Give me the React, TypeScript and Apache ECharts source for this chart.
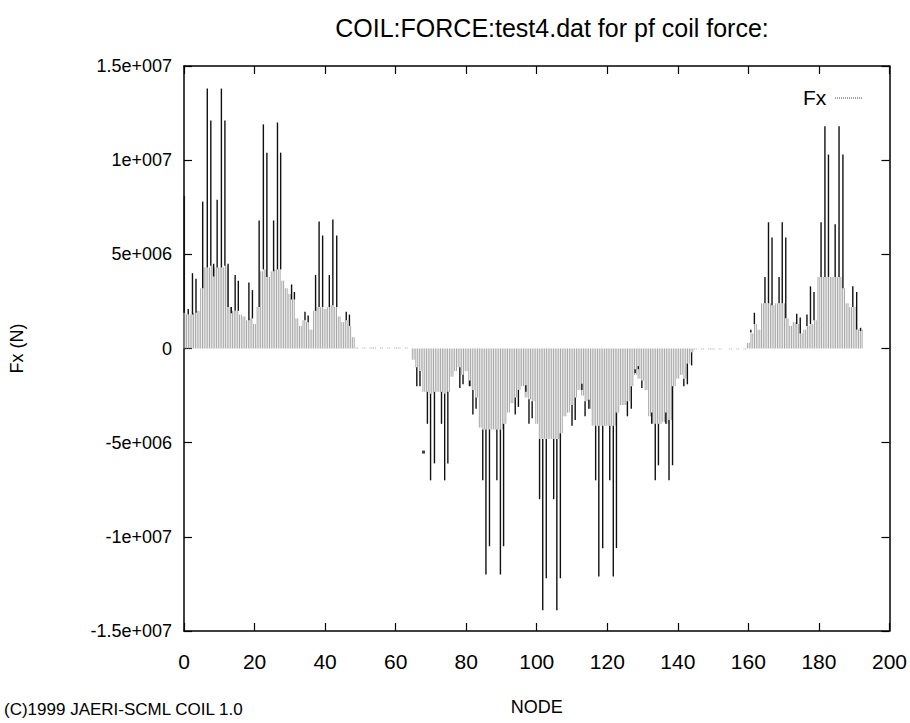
import React, { useEffect, useRef } from "react";
import * as echarts from "echarts";

// ---- data ----
const titleText = "COIL:FORCE:test4.dat for pf coil force:";
const xName = "NODE";
const yName = "Fx (N)";
const seriesName = "Fx";
const footer = "(C)1999 JAERI-SCML COIL 1.0";

const yTickValues = [-1.5e7, -1e7, -5e6, 0, 5e6, 1e7, 1.5e7];
const yTickLabels = ["-1.5e+007", "-1e+007", "-5e+006", "0", "5e+006", "1e+007", "1.5e+007"];

// light (dense) part of the impulses, one value per node, nodes 0..192
const grayNodes0to48 = [
  1.9e6, 1.8e6, 1.8e6, 1.9e6, 2.0e6, 3.2e6, 4.3e6, 4.3e6, 4.4e6, 4.3e6, 4.3e6, 4.3e6, 4.4e6,
  2.2e6, 2.0e6, 2.0e6, 1.8e6, 1.7e6, 1.5e6, 1.6e6, 1.3e6, 2.2e6, 4.1e6, 4.2e6, 3.8e6,
  4.1e6, 4.2e6, 4.2e6, 3.6e6, 3.2e6, 2.9e6, 2.6e6, 1.6e6, 1.2e6, 1.5e6, 1.4e6, 1.0e6,
  2.0e6, 2.2e6, 2.2e6, 2.1e6, 2.2e6, 2.3e6, 2.2e6, 1.7e6, 1.4e6, 1.5e6, 1.2e6, 0.6e6,
];
const grayNodes49to64 = [
  0.05e6, 0, 0.05e6, 0, 0.05e6, 0.05e6, 0, 0.05e6, 0, 0.05e6, 0, 0.05e6, 0.05e6, 0, 0.05e6, 0,
];
const grayNodes65to144 = [
  -0.6e6, -1.0e6, -1.2e6, -2.3e6, -2.3e6, -2.4e6, -2.3e6, -2.3e6, -2.3e6, -2.4e6, -2.3e6, -1.5e6,
  -1.2e6, -1.0e6, -1.4e6, -1.2e6, -2.0e6, -2.2e6, -2.6e6,
  -4.2e6, -4.3e6, -4.3e6, -4.3e6, -4.3e6, -4.3e6, -4.3e6, -4.0e6, -3.4e6, -2.9e6, -2.6e6, -2.2e6,
  -2.0e6, -2.6e6, -2.7e6, -2.8e6,
  -4.0e6, -4.8e6, -4.8e6, -4.8e6, -4.8e6, -4.8e6, -4.8e6, -4.5e6, -3.6e6, -3.4e6, -3.0e6, -2.6e6,
  -2.2e6, -2.5e6, -2.8e6, -3.2e6,
  -4.1e6, -4.1e6, -4.1e6, -4.1e6, -4.1e6, -4.1e6, -4.1e6, -3.4e6, -3.0e6, -3.0e6, -2.8e6, -2.0e6,
  -1.4e6, -1.6e6, -1.7e6, -2.2e6,
  -3.6e6, -4.0e6, -4.0e6, -4.0e6, -3.9e6, -4.0e6, -3.8e6, -2.0e6, -1.6e6, -1.4e6, -1.6e6, -0.8e6,
  -0.2e6,
];
const grayNodes145to159 = [
  -0.05e6, 0, -0.05e6, 0, -0.05e6, -0.05e6, 0, -0.05e6, 0, 0, -0.05e6, 0, -0.05e6, 0, -0.05e6,
];
const grayNodes160to192 = [
  0.3e6, 0.8e6, 1.3e6, 1.0e6, 2.4e6, 2.4e6, 2.4e6, 2.3e6, 2.4e6, 2.4e6, 2.4e6,
  1.6e6, 1.2e6, 1.4e6, 1.3e6, 0.8e6, 1.0e6, 1.2e6, 1.3e6, 1.5e6,
  3.8e6, 3.8e6, 3.8e6, 3.8e6, 3.8e6, 3.8e6, 3.8e6, 3.2e6, 2.4e6, 2.2e6, 2.2e6, 1.0e6, 1.0e6,
];
const grayValues = [
  ...grayNodes0to48,
  ...grayNodes49to64,
  ...grayNodes65to144,
  ...grayNodes145to159,
  ...grayNodes160to192,
];

// dark impulses: node positions and peak values
const spikeNodes = [
  0.1, 1.2, 2.4, 3.4, 5.3, 6.6, 7.6, 8.4, 9.4, 10.6, 11.6, 12.5, 13.4, 14.5, 15.4, 18.4, 19.4,
  21.3, 22.5, 23.5, 25.4, 26.5, 27.4, 30.5, 31.3, 34.3, 35.2, 37.3, 38.3, 39.3, 41.2, 42.2, 43.3,
  46.0, 46.9,
  66.0, 66.9, 69.0, 69.9, 71.0, 73.0, 73.9, 74.8, 78.2, 79.1, 81.0, 81.9, 82.8, 84.7, 85.6, 86.6,
  88.7, 89.7, 90.6, 93.9, 94.8, 96.9, 97.8, 98.7, 100.8, 101.7, 102.7, 104.8, 105.7, 106.7,
  110.0, 110.9, 112.8, 113.7, 114.8, 116.7, 117.6, 118.7, 120.7, 121.7, 122.6, 125.7, 126.8,
  127.9, 128.8, 129.8, 132.6, 133.6, 134.5, 136.6, 137.5, 138.5, 141.7, 142.7, 143.9,
  160.7, 161.7, 164.7, 165.7, 166.7, 168.7, 169.6, 170.6, 173.7, 174.7, 176.6, 177.6, 178.6,
  180.6, 181.7, 182.7, 184.6, 185.7, 186.8, 189.6, 190.7, 191.8,
];
const spikeValues = [
  8.1e6, 2.1e6, 4.0e6, 3.7e6, 7.8e6, 1.38e7, 1.21e7, 4.5e6, 7.9e6, 1.38e7, 1.21e7, 4.5e6, 2.2e6,
  3.9e6, 3.6e6, 3.5e6, 3.1e6,
  6.8e6, 1.19e7, 1.04e7, 6.8e6, 1.2e7, 1.04e7, 3.4e6, 3.0e6, 1.95e6, 1.75e6, 3.9e6, 6.75e6, 6.0e6,
  3.9e6, 6.85e6, 6.0e6, 1.95e6, 1.8e6,
  -2.0e6, -2.0e6, -4.0e6, -7.0e6, -6.1e6, -4.0e6, -7.0e6, -6.1e6, -2.1e6, -1.9e6, -2.0e6, -3.5e6,
  -3.2e6, -7.0e6, -1.2e7, -1.05e7, -7.0e6, -1.2e7, -1.05e7, -3.5e6, -3.1e6, -2.3e6, -4.0e6, -3.7e6,
  -8.0e6, -1.39e7, -1.22e7, -8.0e6, -1.39e7, -1.22e7,
  -4.1e6, -3.8e6, -2.2e6, -3.6e6, -3.2e6, -7.0e6, -1.21e7, -1.06e7, -7.0e6, -1.21e7, -1.06e7,
  -3.6e6, -3.2e6, -1.3e6, -1.1e6, -2.1e6, -4.0e6, -7.0e6, -6.2e6, -4.0e6, -7.0e6, -6.2e6, -2.0e6,
  -1.9e6, -0.9e6,
  1.0e6, 1.9e6, 3.8e6, 6.7e6, 5.9e6, 3.8e6, 6.7e6, 5.9e6, 1.85e6, 1.65e6, 1.8e6, 3.3e6, 3.0e6,
  6.7e6, 1.18e7, 1.03e7, 6.6e6, 1.18e7, 1.03e7, 3.3e6, 3.0e6, 1.1e6,
];
// isolated mark
const strayNodes = [67.9];
const strayValues = [-5.5e6];

const FONT = "'Liberation Sans', Arial, Helvetica, sans-serif";

export default function App() {
  const ref = useRef<HTMLDivElement>(null);
  useEffect(() => {
    if (!ref.current) return;
    const chart = echarts.init(ref.current, null, { renderer: "svg" });

    const grayData = grayValues.map((v, i) => [i, v]);
    const spikeData = spikeNodes.map((n, i) => {
      const peak = spikeValues[i];
      let base = grayValues[Math.round(n)] ?? 0;
      if (Math.sign(base) !== Math.sign(peak) || Math.abs(peak) - Math.abs(base) < 0.3e6) {
        base = peak * 0.85;
      }
      return [n, base, peak];
    });
    const strayData = strayNodes.map((n, i) => [n, strayValues[i]]);

    const axisCommon = {
      axisLine: { show: true, onZero: false, lineStyle: { color: "#000", width: 1.5 } },
      axisTick: { show: true, inside: true, length: 8, lineStyle: { color: "#000", width: 1.2 } },
      splitLine: { show: false },
    };

    chart.setOption({
      animation: false,
      backgroundColor: "#fff",
      title: {
        text: titleText,
        left: 547,
        top: 10,
        textAlign: "center",
        textStyle: { fontFamily: FONT, fontSize: 25, fontWeight: "normal", color: "#000" },
      },
      grid: { left: 178, right: 19, top: 66, bottom: 92, containLabel: false },
      xAxis: [
        {
          type: "value",
          min: 0,
          max: 200,
          interval: 20,
          position: "bottom",
          name: xName,
          nameLocation: "middle",
          nameGap: 67,
          nameTextStyle: { fontFamily: FONT, fontSize: 18, color: "#000" },
          axisLabel: { fontFamily: FONT, fontSize: 21, color: "#000", margin: 20 },
          ...axisCommon,
        },
        {
          type: "value",
          min: 0,
          max: 200,
          interval: 20,
          position: "top",
          axisLabel: { show: false },
          ...axisCommon,
        },
      ],
      yAxis: [
        {
          type: "value",
          min: -1.5e7,
          max: 1.5e7,
          interval: 5e6,
          position: "left",
          name: yName,
          nameLocation: "middle",
          nameGap: 158,
          nameRotate: 90,
          nameTextStyle: { fontFamily: FONT, fontSize: 18, color: "#000" },
          axisLabel: {
            fontFamily: FONT,
            fontSize: 18,
            color: "#000",
            margin: 12,
            formatter: (v: number) => {
              const idx = yTickValues.findIndex((t) => Math.abs(t - v) < 1);
              return idx >= 0 ? yTickLabels[idx] : "";
            },
          },
          ...axisCommon,
        },
        {
          type: "value",
          min: -1.5e7,
          max: 1.5e7,
          interval: 5e6,
          position: "right",
          axisLabel: { show: false },
          ...axisCommon,
        },
      ],
      series: [
        {
          name: seriesName,
          type: "custom",
          data: grayData,
          clip: true,
          z: 2,
          renderItem: (params: any, api: any) => {
            const x = api.value(0);
            const v = api.value(1);
            const p0 = api.coord([x, 0]);
            const p1 = api.coord([x, v]);
            const children = [-0.95, 0.85].map((dx) => ({
              type: "line",
              shape: { x1: p0[0] + dx, y1: p0[1], x2: p1[0] + dx, y2: p1[1] },
              style: { stroke: "#a6a6a6", lineWidth: 1 },
            }));
            return { type: "group", children };
          },
        },
        {
          name: seriesName + " peaks",
          type: "custom",
          data: spikeData,
          clip: true,
          z: 3,
          renderItem: (params: any, api: any) => {
            const x = api.value(0);
            const p0 = api.coord([x, api.value(1)]);
            const p1 = api.coord([x, api.value(2)]);
            return {
              type: "line",
              shape: { x1: p0[0], y1: p0[1], x2: p1[0], y2: p1[1] },
              style: { stroke: "#111", lineWidth: 1.4 },
            };
          },
        },
        {
          name: "stray",
          type: "scatter",
          data: strayData,
          symbol: "rect",
          symbolSize: 3,
          itemStyle: { color: "#111" },
          z: 3,
        },
      ],
      graphic: [
        {
          type: "text",
          left: 4,
          top: 701,
          style: { text: footer, fontFamily: FONT, fontSize: 17, fill: "#000" },
        },
        {
          type: "text",
          left: 803,
          top: 87,
          style: { text: seriesName, fontFamily: FONT, fontSize: 21, fill: "#000" },
        },
        {
          type: "line",
          shape: { x1: 835, y1: 98, x2: 863, y2: 98 },
          style: { stroke: "#444", lineWidth: 1.2, lineDash: [1, 1] },
        },
      ],
    });
    return () => chart.dispose();
  }, []);
  return (
    <div
      ref={ref}
      style={{ position: "absolute", left: 0, top: 0, width: 910, height: 723 }}
    />
  );
}
